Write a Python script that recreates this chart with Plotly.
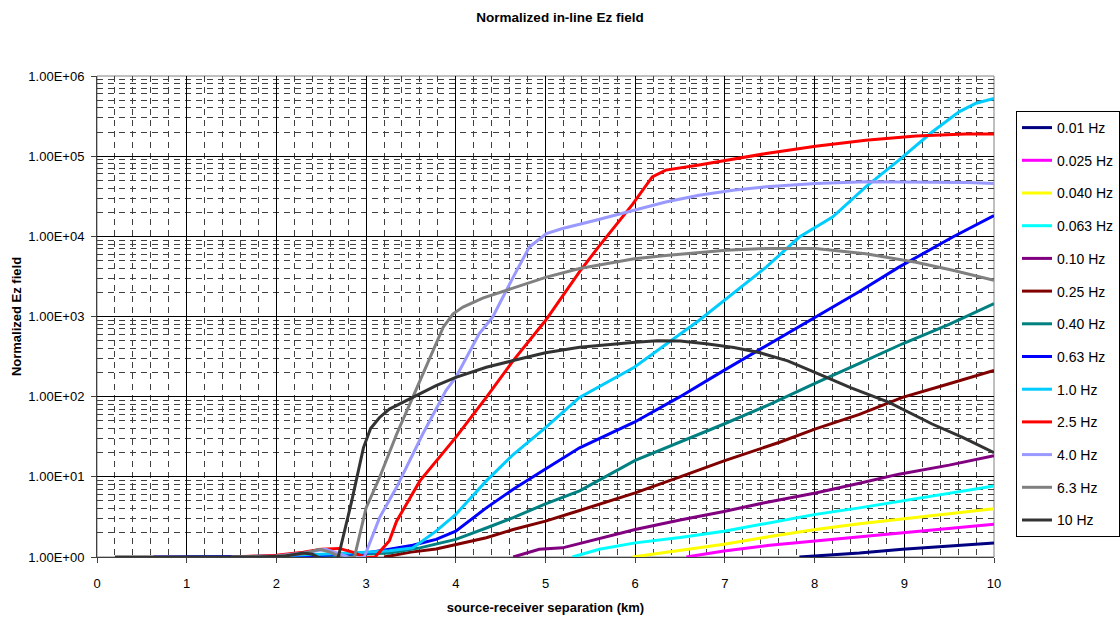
import plotly.graph_objects as go

# Source-receiver separation (km) and normalized in-line Ez amplitude per frequency
x_001 = [7.83, 8.5, 8.98, 9.5, 10.0]
y_001 = [1.0, 1.12, 1.25, 1.37, 1.5]

x_0025 = [6.57, 6.99, 7.5, 8.01, 8.5, 8.98, 9.5, 10.0]
y_0025 = [1.0, 1.19, 1.4, 1.58, 1.8, 2.0, 2.3, 2.56]

x_0040 = [5.97, 6.5, 6.99, 7.5, 8.01, 8.5, 8.98, 9.5, 10.0]
y_0040 = [1.0, 1.2, 1.44, 1.8, 2.2, 2.6, 3.0, 3.5, 4.0]

x_0063 = [5.3, 5.6, 6.0, 6.5, 6.99, 7.5, 8.01, 8.5, 8.98, 9.5, 10.0]
y_0063 = [1.0, 1.25, 1.5, 1.75, 2.1, 2.65, 3.4, 4.1, 5.0, 6.2, 7.7]

x_010 = [4.64, 4.93, 5.19, 5.56, 6.0, 6.5, 6.99, 7.5, 8.01, 8.5, 8.94, 9.5, 10.0]
y_010 = [1.0, 1.25, 1.3, 1.66, 2.2, 2.9, 3.7, 4.9, 6.3, 8.3, 10.8, 14, 18.3]

x_025 = [3.2, 3.5, 3.78, 4.0, 4.34, 4.64, 5.0, 5.38, 6.0, 6.5, 6.99, 7.61, 8.01, 8.5, 8.98, 9.5, 10.0]
y_025 = [1.0, 1.15, 1.26, 1.44, 1.74, 2.2, 2.8, 3.8, 6.3, 10, 15.8, 27, 39.6, 60, 98, 145, 213]

x_040 = [1.0, 2.0, 2.5, 3.0, 3.26, 3.6, 4.0, 4.34, 4.64, 5.0, 5.38, 6.0, 6.5, 6.99, 7.5, 8.01, 8.5, 8.98, 9.5, 10.0]
y_040 = [1.0, 1.0, 1.03, 1.08, 1.12, 1.3, 1.66, 2.3, 3.1, 4.6, 6.7, 16, 27, 45.6, 80, 148, 260, 457, 800, 1445]

x_063 = [0.63, 1.0, 1.5, 2.0, 2.5, 3.0, 3.26, 3.52, 3.78, 4.0, 4.34, 4.64, 5.0, 5.38, 5.99, 6.5, 6.99, 7.5, 8.01, 8.5, 8.94, 9.54, 10.0]
y_063 = [1.0, 1.0, 1.0, 1.02, 1.05, 1.12, 1.25, 1.4, 1.66, 2.1, 4.1, 7, 12.5, 23, 48, 100, 213, 460, 980, 2050, 4130, 9800, 18200]

x_1 = [1.5, 2.0, 2.5, 3.0, 3.26, 3.52, 3.78, 4.0, 4.34, 4.64, 5.0, 5.38, 5.99, 6.71, 7.09, 7.46, 7.83, 8.2, 8.57, 8.94, 9.31, 9.61, 9.8, 10.0]
y_1 = [1.0, 1.03, 1.08, 1.15, 1.2, 1.3, 2.1, 3.4, 8.9, 19, 41, 98, 233, 891, 1920, 4130, 9800, 17400, 41500, 89100, 200000, 357000, 457000, 525000]

x_25 = [1.5, 2.0, 2.3, 2.5, 2.7, 2.85, 3.0, 3.1, 3.26, 3.34, 3.6, 4.0, 4.34, 4.64, 5.0, 5.38, 5.6, 5.97, 6.19, 6.34, 6.71, 7.01, 7.46, 8.01, 8.57, 9.13, 9.68, 10.0]
y_25 = [1.0, 1.05, 1.15, 1.25, 1.28, 1.15, 0.98, 1.0, 1.6, 2.8, 8.9, 31, 98, 282, 891, 3630, 7600, 25000, 55000, 67000, 77600, 89100, 108000, 133000, 158000, 178000, 189000, 189000]

x_4 = [1.5, 2.0, 2.3, 2.55, 2.7, 2.85, 2.98, 3.15, 3.34, 3.63, 3.89, 4.0, 4.26, 4.41, 4.64, 4.82, 5.01, 5.19, 5.56, 5.99, 6.34, 6.71, 7.09, 7.46, 8.01, 8.57, 9.31, 9.7, 10.0]
y_4 = [1.0, 1.03, 1.12, 1.25, 1.1, 0.95, 1.0, 3.1, 7.4, 34, 119, 174, 607, 980, 3100, 7350, 10800, 12500, 15850, 21300, 26800, 32500, 37600, 41500, 45600, 47800, 47800, 47000, 45600]

x_63 = [1.5, 2.0, 2.3, 2.48, 2.6, 2.75, 2.87, 3.0, 3.15, 3.34, 3.52, 3.71, 3.86, 3.97, 4.08, 4.3, 4.56, 5.01, 5.38, 5.99, 6.34, 7.01, 7.46, 8.01, 8.57, 9.13, 9.54, 10.0]
y_63 = [1.0, 1.02, 1.1, 1.25, 1.15, 0.95, 1.0, 4.1, 9.8, 34, 98, 310, 735, 1080, 1310, 1700, 2130, 3100, 3960, 5250, 5760, 6700, 7050, 7050, 6060, 4760, 3770, 2820]

x_10 = [0.2, 1.0, 1.8, 2.1, 2.3, 2.4, 2.5, 2.6, 2.69, 2.84, 2.97, 3.05, 3.15, 3.26, 3.52, 3.78, 4.0, 4.34, 4.64, 5.0, 5.38, 5.7, 6.0, 6.25, 6.5, 6.79, 7.1, 7.38, 7.7, 8.01, 8.4, 8.83, 9.31, 9.65, 10.0]
y_10 = [1.0, 1.0, 1.0, 1.03, 1.12, 1.08, 0.95, 0.9, 1.0, 5, 23, 40, 55, 70, 98, 137, 174, 233, 282, 353, 414, 450, 478, 500, 495, 457, 410, 356, 280, 200, 130, 85, 45.6, 31, 20]

series_names = ["0.01 Hz", "0.025 Hz", "0.040 Hz", "0.063 Hz", "0.10 Hz", "0.25 Hz",
                "0.40 Hz", "0.63 Hz", "1.0 Hz", "2.5 Hz", "4.0 Hz", "6.3 Hz", "10 Hz"]
series_x = [x_001, x_0025, x_0040, x_0063, x_010, x_025, x_040, x_063, x_1, x_25, x_4, x_63, x_10]
series_y = [y_001, y_0025, y_0040, y_0063, y_010, y_025, y_040, y_063, y_1, y_25, y_4, y_63, y_10]
series_colors = ["#000080", "#FF00FF", "#FFFF00", "#00FFFF", "#800080", "#800000",
                 "#008080", "#0000FF", "#00CCFF", "#FF0000", "#9999FF", "#808080", "#333333"]

y_major = [1, 10, 100, 1000, 10000, 100000, 1000000]
y_labels = ["1.00E+00", "1.00E+01", "1.00E+02", "1.00E+03", "1.00E+04", "1.00E+05", "1.00E+06"]
y_minor = [m * d for d in y_major[:-1] for m in range(2, 10)]

FONT = "Liberation Sans, Arial, sans-serif"

fig = go.Figure()
for name, xs, ys, col in zip(series_names, series_x, series_y, series_colors):
    fig.add_trace(go.Scatter(
        x=xs, y=ys, mode="lines", name=name, legendgroup=name,
        line=dict(color=col, width=3),
    ))

fig.update_layout(
    width=1120, height=620,
    margin=dict(l=97, r=126, t=76, b=63, autoexpand=False),
    paper_bgcolor="white", plot_bgcolor="white",
    font=dict(family=FONT, color="black", size=12),
    title=dict(text="<b>Normalized in-line Ez field</b>", x=0.5, xref="container",
               y=1 - 17 / 620, yref="container", xanchor="center", yanchor="middle",
               font=dict(size=13.5, family=FONT)),
    legend=dict(
        x=(1016 - 97) / 897, xref="paper", xanchor="left",
        y=(557 - 111) / 481, yref="paper", yanchor="top",
        bordercolor="black", borderwidth=1, bgcolor="white",
        font=dict(size=14, family=FONT), tracegroupgap=11.5,
        traceorder="grouped",
    ),
    showlegend=True,
)

fig.update_xaxes(
    range=[0, 10], dtick=1, tick0=0,
    showgrid=True, gridcolor="black", gridwidth=1,
    showline=True, linecolor="#404040", linewidth=1,
    ticks="outside", ticklen=5, tickcolor="#404040",
    tickfont=dict(size=13), zeroline=False, ticklabelstandoff=9,
    minor=dict(dtick=0.2, tick0=0, showgrid=True, gridcolor="#404040",
               griddash="6px,5px", gridwidth=1),
    title=dict(text="<b>source-receiver separation (km)</b>", font=dict(size=13), standoff=13),
)

fig.update_yaxes(
    type="log", range=[0, 6],
    tickmode="array", tickvals=y_major, ticktext=y_labels,
    showgrid=True, gridcolor="black", gridwidth=1,
    showline=True, linecolor="#404040", linewidth=1,
    ticks="outside", ticklen=5, tickcolor="#404040",
    tickfont=dict(size=13), zeroline=False, ticklabelstandoff=4,
    minor=dict(tickmode="array", tickvals=y_minor, showgrid=True, gridcolor="#404040",
               griddash="6px,5px", gridwidth=1),
    title=dict(text="<b>Normalized Ez field</b>", font=dict(size=13), standoff=3),
)

# Grey frame around the plotting area
fig.add_shape(type="rect", xref="paper", yref="paper", x0=0, x1=1, y0=0, y1=1,
              line=dict(color="#808080", width=1), layer="below")

fig.write_html("out.html")
